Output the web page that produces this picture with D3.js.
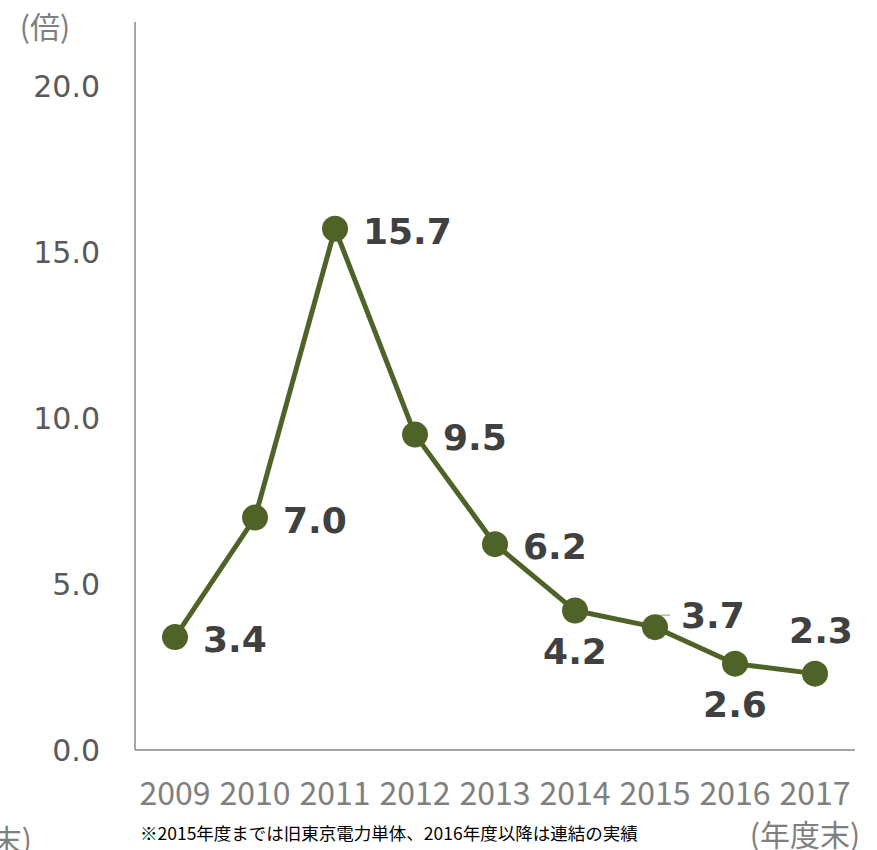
<!DOCTYPE html>
<html>
<head>
<meta charset="utf-8">
<script src="https://cdn.jsdelivr.net/npm/d3@7"></script>
<style>
  html, body { margin: 0; padding: 0; background: #fff; }
  svg { display: block; }
</style>
</head>
<body>
<div id="chart"></div>
<script>
const years = ["2009", "2010", "2011", "2012", "2013", "2014", "2015", "2016", "2017"];
const ratios = [3.4, 7.0, 15.7, 9.5, 6.2, 4.2, 3.7, 2.6, 2.3];
const yTicks = [0, 5, 10, 15, 20];
// label placement per point: r = right, b = below, a = above, ar = above-right
const labelPos = ["r", "r", "r", "r", "r", "b", "ar", "b", "a"];

(function () {
  const width = 877, height = 850;
  const svg = d3.select("#chart").append("svg")
    .attr("width", width).attr("height", height);

  const x = d3.scaleBand().domain(years).range([135, 855]);
  const y = d3.scaleLinear().domain([0, 20]).range([750, 86]);

  const grey = "#595959";
  const lightGrey = "#7f7f7f";
  const green = "#4f6228";
  const jp = "Noto Sans CJK JP, sans-serif";

  // axes lines
  svg.append("line").attr("x1", 135).attr("x2", 135).attr("y1", 22).attr("y2", 750)
    .attr("stroke", "#868686").attr("stroke-width", 1.5);
  svg.append("line").attr("x1", 135).attr("x2", 855).attr("y1", 750).attr("y2", 750)
    .attr("stroke", "#868686").attr("stroke-width", 1.5);

  svg.selectAll(".ytick").data(yTicks).join("text")
    .attr("x", 100).attr("y", d => y(d))
    .attr("dy", "0.36em")
    .attr("text-anchor", "end")
    .attr("font-family", "DejaVu Sans, Verdana, sans-serif")
    .attr("font-size", 30).attr("fill", grey)
    .text(d => d.toFixed(1));

  svg.selectAll(".xtick").data(years).join("text")
    .attr("x", d => x(d) + x.bandwidth() / 2).attr("y", 793)
    .attr("dy", "0.36em")
    .attr("text-anchor", "middle")
    .attr("font-family", jp)
    .attr("font-size", 32).attr("fill", lightGrey)
    .text(d => d);

  svg.append("text").attr("x", 45).attr("y", 27).attr("dy", "0.36em")
    .attr("text-anchor", "middle")
    .attr("font-family", jp)
    .attr("font-size", 30).attr("fill", lightGrey).text("(倍)");

  svg.append("text").attr("x", 805).attr("y", 835).attr("dy", "0.36em")
    .attr("text-anchor", "middle")
    .attr("font-family", jp)
    .attr("font-size", 30).attr("fill", lightGrey).text("(年度末)");

  // clipped copy at far left, as in the source
  svg.append("text").attr("x", 32).attr("y", 840).attr("dy", "0.36em")
    .attr("text-anchor", "end")
    .attr("font-family", jp)
    .attr("font-size", 30).attr("fill", lightGrey).text("(年度末)");

  svg.append("text").attr("x", 140).attr("y", 834).attr("dy", "0.36em")
    .attr("font-family", jp)
    .attr("font-size", 17.5).attr("fill", "#000")
    .text("※2015年度までは旧東京電力単体、2016年度以降は連結の実績");

  const data = years.map((yr, i) => ({ yr, v: ratios[i], pos: labelPos[i] }));
  const cx = d => x(d.yr) + x.bandwidth() / 2;

  svg.append("path").datum(data)
    .attr("fill", "none").attr("stroke", green).attr("stroke-width", 5)
    .attr("stroke-linejoin", "round")
    .attr("d", d3.line().x(cx).y(d => y(d.v)));

  // leader line for 2015 label
  const p15 = data[6];
  svg.append("polyline")
    .attr("points", `${cx(p15)},${y(p15.v)} ${cx(p15) + 5},${y(p15.v) - 12} ${cx(p15) + 15},${y(p15.v) - 12}`)
    .attr("fill", "none").attr("stroke", "#a6a6a6").attr("stroke-width", 1.2);

  svg.selectAll(".dot").data(data).join("circle")
    .attr("cx", cx).attr("cy", d => y(d.v)).attr("r", 13)
    .attr("fill", green);

  const off = {
    r: [28, 2, "start"],
    b: [0, 40, "middle"],
    a: [6, -44, "middle"],
    ar: [26, -12, "start"]
  };
  svg.selectAll(".lbl").data(data).join("text")
    .attr("x", d => cx(d) + off[d.pos][0])
    .attr("y", d => y(d.v) + off[d.pos][1])
    .attr("dy", "0.36em")
    .attr("text-anchor", d => off[d.pos][2])
    .attr("font-family", "DejaVu Sans, Verdana, sans-serif")
    .attr("font-weight", "bold")
    .attr("font-size", 36).attr("fill", "#404040")
    .text(d => d.v.toFixed(1));
})();
</script>
</body>
</html>
